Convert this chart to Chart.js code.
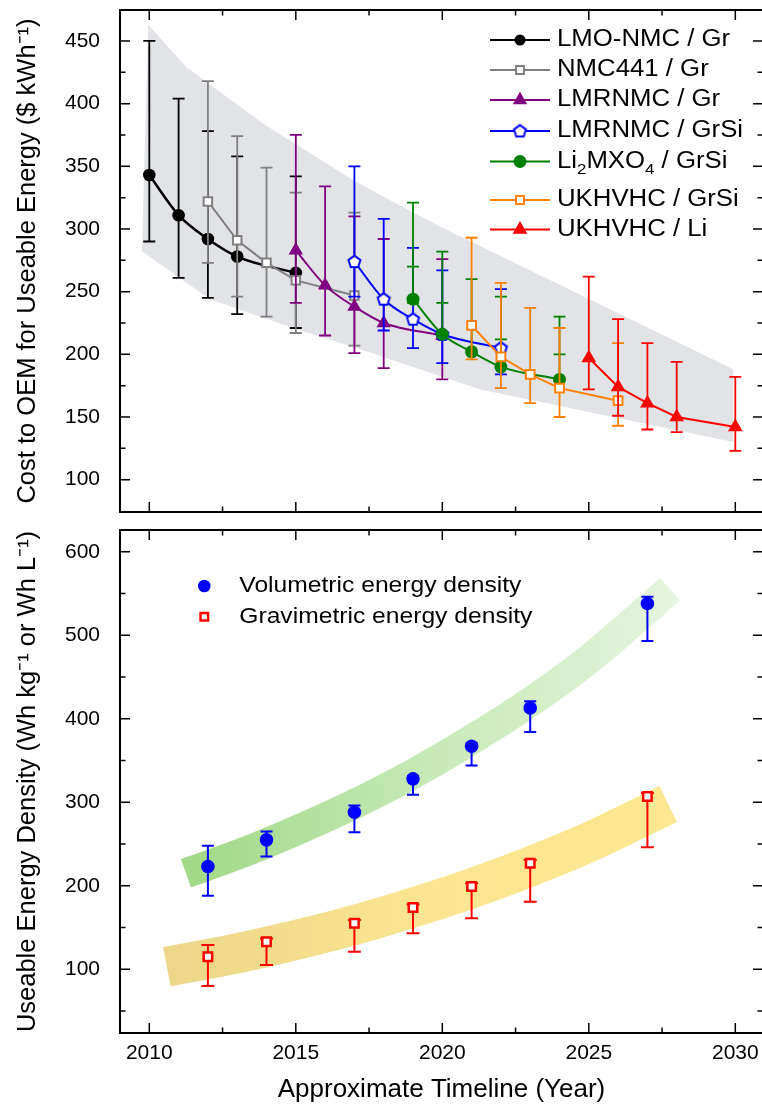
<!DOCTYPE html>
<html>
<head>
<meta charset="utf-8">
<title>Battery cost and energy density timeline</title>
<script src="https://cdn.jsdelivr.net/npm/chart.js@4.4.1/dist/chart.umd.min.js"></script>
<style>
  html, body { margin:0; padding:0; background:#ffffff; overflow:hidden; }
  #page { position:relative; width:762px; height:1107px; overflow:hidden; background:#fff; }
  #costChart { position:absolute; left:0; top:0; }
  #densityChart { position:absolute; left:0; top:522px; }
</style>
</head>
<body>
<div id="page">
  <canvas id="costChart" width="766" height="522"></canvas>
  <canvas id="densityChart" width="766" height="585"></canvas>
</div>
<script>
// ---------------- tick labels ----------------
const YEAR_TICKS = [2010, 2015, 2020, 2025, 2030];
const YEAR_MINOR_TICKS = [2012.5, 2017.5, 2022.5, 2027.5];
const COST_TICKS = [100, 150, 200, 250, 300, 350, 400, 450];
const COST_MINOR_TICKS = [125, 175, 225, 275, 325, 375, 425];
const DENSITY_TICKS = [100, 200, 300, 400, 500, 600];
const DENSITY_MINOR_TICKS = [50, 150, 250, 350, 450, 550];

// ---------------- top panel: cost ($/kWh) ----------------
const LMO_NMC_GR_YEAR = [2010, 2011, 2012, 2013, 2015];
const LMO_NMC_GR_COST = [343, 311, 292, 278, 265];
const LMO_NMC_GR_LOW  = [290, 261, 245, 232, 221];
const LMO_NMC_GR_HIGH = [450, 404, 378, 358, 342];

const NMC441_GR_YEAR = [2012, 2013, 2014, 2015, 2017];
const NMC441_GR_COST = [322, 291, 273, 259, 247];
const NMC441_GR_LOW  = [273, 246, 230, 217, 207];
const NMC441_GR_HIGH = [418, 374, 349, 329, 313];

const LMRNMC_GR_YEAR = [2015, 2016, 2017, 2018, 2020];
const LMRNMC_GR_COST = [283, 255, 238, 225, 215];
const LMRNMC_GR_LOW  = [241, 215, 201, 189, 180];
const LMRNMC_GR_HIGH = [375, 334, 310, 292, 276];

const LMRNMC_GRSI_YEAR = [2017, 2018, 2019, 2020, 2022];
const LMRNMC_GRSI_COST = [274, 244, 228, 216, 205];
const LMRNMC_GRSI_LOW  = [246, 219, 205, 193, 184];
const LMRNMC_GRSI_HIGH = [350, 308, 285, 267, 252];

const LI2MXO4_GRSI_YEAR = [2019, 2020, 2021, 2022, 2024];
const LI2MXO4_GRSI_COST = [244, 216, 202, 190, 180];
const LI2MXO4_GRSI_LOW  = [241, 241, 260, 212, 200];
const LI2MXO4_GRSI_HIGH = [321, 282, 260, 246, 230];
const LI2MXO4_GRSI_MID  = [270, null, null, null, null];

const UKHVHC_GRSI_YEAR = [2021, 2022, 2023, 2024, 2026];
const UKHVHC_GRSI_COST = [223, 198, 184, 173, 163];
const UKHVHC_GRSI_LOW  = [196, 173, 161, 150, 143];
const UKHVHC_GRSI_HIGH = [293, 257, 237, 221, 209];

const UKHVHC_LI_YEAR = [2025, 2026, 2027, 2028, 2030];
const UKHVHC_LI_COST = [197, 174, 161, 150, 142];
const UKHVHC_LI_LOW  = [172, 151, 140, 138, 123];
const UKHVHC_LI_HIGH = [262, 228, 209, 194, 182];

// grey range band (outline: upper edge left->right, lower edge right->left)
const COST_BAND_YEAR = [2009.96, 2011.27, 2013.89, 2016.95, 2017.9, 2019.92, 2029.93, 2029.93, 2021.3, 2017.07, 2015.03, 2012.07, 2009.75];
const COST_BAND_COST = [463, 429, 384, 339, 327, 302, 188, 130, 172, 205, 220, 244, 282];

// ---------------- bottom panel: energy density ----------------
const DENSITY_YEAR = [2012, 2014, 2017, 2019, 2021, 2023, 2027];
const VOLUMETRIC      = [223, 255, 288, 328, 367, 413, 538];
const VOLUMETRIC_LOW  = [188, 235, 264, 309, 344, 384, 493];
const VOLUMETRIC_HIGH = [248, 265, 296, 331, 371, 421, 546];
const GRAVIMETRIC      = [115, 133, 155, 174, 199, 227, 307];
const GRAVIMETRIC_LOW  = [80, 105, 121, 143, 161, 181, 246];
const GRAVIMETRIC_HIGH = [129, 137, 159, 178, 203, 231, 311];

// trend bands (centre lines)
const VOLUMETRIC_BAND_YEAR = [2011.25, 2013, 2015, 2017, 2019, 2021, 2023, 2025, 2027.77];
const VOLUMETRIC_BAND      = [215, 237, 266, 298, 334, 375, 420, 471, 555];
const GRAVIMETRIC_BAND_YEAR = [2010.6, 2013, 2015, 2017, 2019, 2021, 2023, 2025, 2027.71];
const GRAVIMETRIC_BAND      = [103, 119, 135, 153, 174, 197, 223, 252, 298];

// ---------------- setup ----------------
const FONT = "'Liberation Sans', Arial, Helvetica, sans-serif";
Chart.defaults.font.family = FONT;
Chart.defaults.color = '#000';

const X_MIN = 2009.0, X_MAX = 2030.945;

function pentagonImage(r, lw, stroke, fill) {
  const s = Math.ceil(2 * r + lw + 2);
  const c = document.createElement('canvas');
  c.width = s; c.height = s;
  const g = c.getContext('2d');
  g.translate(s / 2, s / 2 + 0.4);
  g.beginPath();
  for (let k = 0; k < 5; k++) {
    const a = -Math.PI / 2 + k * 2 * Math.PI / 5;
    const px = r * Math.cos(a), py = r * Math.sin(a);
    if (k) g.lineTo(px, py); else g.moveTo(px, py);
  }
  g.closePath();
  g.fillStyle = fill; g.fill();
  g.lineWidth = lw; g.strokeStyle = stroke; g.stroke();
  return c;
}
const PENTAGON = pentagonImage(6.3, 2, '#0000ff', '#ffffff');

const COST_SERIES = [
  {label:'LMO-NMC / Gr', year:LMO_NMC_GR_YEAR, cost:LMO_NMC_GR_COST, low:LMO_NMC_GR_LOW, high:LMO_NMC_GR_HIGH,
   color:'#000000', point:'circle', radius:6.3, legendRadius:5.5, fill:'#000000', pbw:0, smooth:true, lw:2.5},
  {label:'NMC441 / Gr', year:NMC441_GR_YEAR, cost:NMC441_GR_COST, low:NMC441_GR_LOW, high:NMC441_GR_HIGH,
   color:'#808080', point:'rect', radius:6, legendRadius:5.5, fill:'#ffffff', pbw:2, smooth:false, lw:2},
  {label:'LMRNMC / Gr', year:LMRNMC_GR_YEAR, cost:LMRNMC_GR_COST, low:LMRNMC_GR_LOW, high:LMRNMC_GR_HIGH,
   color:'#800080', point:'triangle', radius:8.3, fill:'#800080', pbw:0, smooth:true, lw:2},
  {label:'LMRNMC / GrSi', year:LMRNMC_GRSI_YEAR, cost:LMRNMC_GRSI_COST, low:LMRNMC_GRSI_LOW, high:LMRNMC_GRSI_HIGH,
   color:'#0000ff', point:PENTAGON, radius:7, fill:'#ffffff', pbw:2, smooth:true, lw:2},
  {label:'Li2MXO4 / GrSi', parts:[['Li',0],['2',1],['MXO',0],['4',1],[' / GrSi',0]],
   year:LI2MXO4_GRSI_YEAR, cost:LI2MXO4_GRSI_COST, low:LI2MXO4_GRSI_LOW, high:LI2MXO4_GRSI_HIGH, mid:LI2MXO4_GRSI_MID,
   color:'#008000', point:'circle', radius:6.5, fill:'#008000', pbw:0, smooth:true, lw:2},
  {label:'UKHVHC / GrSi', year:UKHVHC_GRSI_YEAR, cost:UKHVHC_GRSI_COST, low:UKHVHC_GRSI_LOW, high:UKHVHC_GRSI_HIGH,
   color:'#ff8000', point:'rect', radius:6.2, legendRadius:5.5, fill:'#ffffff', pbw:2, smooth:false, lw:2},
  {label:'UKHVHC / Li', year:UKHVHC_LI_YEAR, cost:UKHVHC_LI_COST, low:UKHVHC_LI_LOW, high:UKHVHC_LI_HIGH,
   color:'#ff0000', point:'triangle', radius:8.5, fill:'#ff0000', pbw:0, smooth:false, lw:2}
];

function seriesDataset(s, order) {
  return {
    type:'line', label:s.label,
    data: s.year.map((x, i) => ({x, y: s.cost[i]})),
    errLow: s.low, errHigh: s.high, errMid: s.mid || null,
    errColor: s.color, errWidth: 1.8, errCap: 12,
    borderColor: s.color, borderWidth: s.lw,
    pointStyle: s.point, pointRadius: s.radius, pointHoverRadius: s.radius,
    pointBackgroundColor: s.fill, pointBorderColor: s.color, pointBorderWidth: s.pbw,
    tension: s.smooth ? 0.4 : 0,
    cubicInterpolationMode: s.smooth ? 'monotone' : 'default',
    fill: false, order
  };
}

function bandGradient(colors, x0, x1) {
  return (c) => {
    const chart = c.chart;
    const xs = chart.scales && chart.scales.x;
    if (!chart.chartArea || !xs) return colors[0];
    const g = chart.ctx.createLinearGradient(xs.getPixelForValue(x0), 0, xs.getPixelForValue(x1), 0);
    colors.forEach((col, i) => g.addColorStop(i / (colors.length - 1), col));
    return g;
  };
}

function drawMarker(ctx, style, r, x, y, fill, stroke, bw) {
  ctx.save();
  if (typeof style === 'object') {
    ctx.drawImage(style, x - style.width / 2, y - style.height / 2);
    ctx.restore();
    return;
  }
  ctx.beginPath();
  if (style === 'circle') {
    ctx.arc(x, y, r, 0, 2 * Math.PI);
  } else if (style === 'rect') {
    const h = r * Math.SQRT1_2;
    ctx.rect(x - h, y - h, 2 * h, 2 * h);
  } else if (style === 'triangle') {
    for (let k = 0; k < 3; k++) {
      const a = -Math.PI / 2 + k * 2 * Math.PI / 3;
      const px = x + r * Math.cos(a), py = y + r * Math.sin(a);
      if (k) ctx.lineTo(px, py); else ctx.moveTo(px, py);
    }
    ctx.closePath();
  }
  ctx.fillStyle = fill; ctx.fill();
  if (bw > 0) { ctx.lineWidth = bw; ctx.strokeStyle = stroke; ctx.stroke(); }
  ctx.restore();
}

function lockBox(size) {
  return (s) => {
    if (s.isHorizontal()) s.height = size; else s.width = size;
    s.paddingTop = 0; s.paddingBottom = 0; s.paddingLeft = 0; s.paddingRight = 0;
  };
}

// ---------------- plugins ----------------
const errorBars = {
  id: 'errorBars',
  beforeDatasetDraw(chart, args) {
    const ds = chart.data.datasets[args.index];
    if (!ds.errLow) return;
    const ys = chart.scales.y, ctx = chart.ctx;
    const half = ds.errCap / 2;
    ctx.save();
    ctx.strokeStyle = ds.errColor; ctx.lineWidth = ds.errWidth; ctx.lineCap = 'butt';
    args.meta.data.forEach((pt, i) => {
      const v = ds.data[i].y, lo = ds.errLow[i], hi = ds.errHigh[i];
      if (lo == null || hi == null) return;
      const x = pt.x;
      const yA = ys.getPixelForValue(Math.min(lo, v)), yB = ys.getPixelForValue(Math.max(hi, v));
      ctx.beginPath();
      ctx.moveTo(x, yA); ctx.lineTo(x, yB);
      const caps = [lo, hi];
      if (ds.errMid && ds.errMid[i] != null) caps.push(ds.errMid[i]);
      caps.forEach(c => {
        const yc = ys.getPixelForValue(c);
        ctx.moveTo(x - half, yc); ctx.lineTo(x + half, yc);
      });
      ctx.stroke();
    });
    ctx.restore();
  }
};

const frame = {
  id: 'frame',
  afterDraw(chart, args, o) {
    const {ctx, chartArea: a, scales: {x, y}} = chart;
    ctx.save();
    ctx.strokeStyle = '#000'; ctx.lineWidth = 1.5;
    ctx.beginPath();
    const vt = (v, len) => {
      const px = x.getPixelForValue(v);
      ctx.moveTo(px, a.bottom); ctx.lineTo(px, a.bottom - len);
      ctx.moveTo(px, a.top); ctx.lineTo(px, a.top + len);
    };
    const ht = (v, len) => {
      const py = y.getPixelForValue(v);
      ctx.moveTo(a.left, py); ctx.lineTo(a.left + len, py);
      ctx.moveTo(a.right, py); ctx.lineTo(a.right - len, py);
    };
    o.xMajor.forEach(v => vt(v, 10));
    o.xMinor.forEach(v => vt(v, 5.5));
    o.yMajor.forEach(v => ht(v, 10));
    o.yMinor.forEach(v => ht(v, 5.5));
    ctx.stroke();
    ctx.lineWidth = 2;
    ctx.strokeRect(a.left, a.top, a.right - a.left, a.bottom - a.top);
    ctx.restore();
  }
};

const seriesKey = {
  id: 'seriesKey',
  afterDraw(chart, args, o) {
    const ctx = chart.ctx;
    o.rows.forEach(row => {
      const s = row.series;
      if (o.lineX0 != null) {
        ctx.save();
        ctx.strokeStyle = s.color; ctx.lineWidth = 2;
        ctx.beginPath(); ctx.moveTo(o.lineX0, row.y); ctx.lineTo(o.lineX1, row.y); ctx.stroke();
        ctx.restore();
      }
      drawMarker(ctx, s.point, s.legendRadius || s.radius, o.markerX, row.y, s.fill, s.color, s.pbw);
      ctx.save();
      ctx.translate(o.textX, row.y);
      ctx.scale(o.stretch, 1);
      ctx.fillStyle = '#000';
      ctx.textBaseline = 'middle';
      ctx.textAlign = 'left';
      let cx = 0;
      const parts = s.parts || [[s.label, 0]];
      parts.forEach(([t, sub]) => {
        ctx.font = (sub ? o.subSize : o.size) + 'px ' + FONT;
        ctx.fillText(t, cx, sub ? o.subDy : 0);
        cx += ctx.measureText(t).width;
      });
      ctx.restore();
    });
  }
};

// ---------------- top chart ----------------
const costBand = {
  type:'line', label:'range',
  data: COST_BAND_YEAR.map((x, i) => ({x, y: COST_BAND_COST[i]})),
  fill:'shape', backgroundColor:'#e1e3e7',
  borderColor:'rgba(0,0,0,0)', borderWidth:0, pointRadius:0, pointHoverRadius:0, tension:0, order:100
};

new Chart(document.getElementById('costChart'), {
  type:'line',
  data: { datasets: [costBand, ...COST_SERIES.map((s, i) => seriesDataset(s, 10 - i))] },
  options: {
    responsive:false, animation:false, devicePixelRatio:1, events:[],
    layout: { autoPadding:false, padding: { left:0, right:3, top:10, bottom:0 } },
    plugins: {
      legend:{display:false}, tooltip:{enabled:false},
      frame: { xMajor:YEAR_TICKS, xMinor:YEAR_MINOR_TICKS, yMajor:COST_TICKS, yMinor:COST_MINOR_TICKS },
      seriesKey: {
        lineX0:490, lineX1:550, markerX:520, textX:557, size:23, subSize:15, subDy:8, stretch:1.12,
        rows: COST_SERIES.map((s, i) => ({ series:s, y:[40, 70, 100, 131, 161.5, 200, 229.5][i] }))
      }
    },
    scales: {
      x: {
        type:'linear', min:X_MIN, max:X_MAX,
        grid:{display:false, drawTicks:false}, border:{display:false},
        ticks:{display:false},
        afterBuildTicks: s => { s.ticks = YEAR_TICKS.map(v => ({value:v})); },
        afterFit: lockBox(10)
      },
      y: {
        type:'linear', min:74.2, max:474.7,
        grid:{display:false, drawTicks:false}, border:{display:false},
        ticks:{ padding:20, font:{size:21}, color:'#000', callback: v => String(v) },
        afterBuildTicks: s => { s.ticks = COST_TICKS.map(v => ({value:v})); },
        afterFit: lockBox(120),
        title:{ display:true, text:'Cost to OEM for Useable Energy ($ kWh\u207B\u00B9)', font:{size:25.5}, color:'#000', padding:{top:13, bottom:0} }
      }
    }
  },
  plugins:[errorBars, frame, seriesKey]
});

// ---------------- bottom chart ----------------
const DENSITY_SERIES = [
  {label:'Volumetric energy density', color:'#0000ff', point:'circle', radius:6.8, legendRadius:6.3, fill:'#0000ff', pbw:0},
  {label:'Gravimetric energy density', color:'#ff0000', point:'rect', radius:6, legendRadius:5.3, fill:'#ffffff', pbw:2.5}
];

new Chart(document.getElementById('densityChart'), {
  type:'line',
  data: { datasets: [
    { type:'line', label:'volumetric trend',
      data: VOLUMETRIC_BAND_YEAR.map((x, i) => ({x, y: VOLUMETRIC_BAND[i]})),
      borderColor: bandGradient(['#a0d987', '#c6e9b6', '#e5f4de'], 2011.25, 2027.77),
      borderWidth:30, borderCapStyle:'butt', pointRadius:0, pointHoverRadius:0,
      tension:0.4, cubicInterpolationMode:'monotone', fill:false, order:100 },
    { type:'line', label:'gravimetric trend',
      data: GRAVIMETRIC_BAND_YEAR.map((x, i) => ({x, y: GRAVIMETRIC_BAND[i]})),
      borderColor: bandGradient(['#ecd689', '#fbe590', '#fde791'], 2010.6, 2027.71),
      borderWidth:40, borderCapStyle:'butt', pointRadius:0, pointHoverRadius:0,
      tension:0.4, cubicInterpolationMode:'monotone', fill:false, order:99 },
    { type:'line', label:'Gravimetric energy density', showLine:false,
      data: DENSITY_YEAR.map((x, i) => ({x, y: GRAVIMETRIC[i]})),
      errLow:GRAVIMETRIC_LOW, errHigh:GRAVIMETRIC_HIGH, errColor:'#ff0000', errWidth:2, errCap:13,
      borderColor:'#ff0000', pointStyle:'rect', pointRadius:6, pointHoverRadius:6,
      pointBackgroundColor:'#ffffff', pointBorderColor:'#ff0000', pointBorderWidth:2.5, order:2 },
    { type:'line', label:'Volumetric energy density', showLine:false,
      data: DENSITY_YEAR.map((x, i) => ({x, y: VOLUMETRIC[i]})),
      errLow:VOLUMETRIC_LOW, errHigh:VOLUMETRIC_HIGH, errColor:'#0000ff', errWidth:2, errCap:12,
      borderColor:'#0000ff', pointStyle:'circle', pointRadius:6.8, pointHoverRadius:6.8,
      pointBackgroundColor:'#0000ff', pointBorderWidth:0, order:1 }
  ] },
  options: {
    responsive:false, animation:false, devicePixelRatio:1, events:[],
    layout: { autoPadding:false, padding: { left:0, right:3, top:8, bottom:0 } },
    plugins: {
      legend:{display:false}, tooltip:{enabled:false},
      frame: { xMajor:YEAR_TICKS, xMinor:YEAR_MINOR_TICKS, yMajor:DENSITY_TICKS, yMinor:DENSITY_MINOR_TICKS },
      seriesKey: {
        lineX0:null, markerX:204.3, textX:239.3, size:22, subSize:15, subDy:8, stretch:1.12,
        rows: DENSITY_SERIES.map((s, i) => ({ series:s, y:[64, 94.7][i] }))
      }
    },
    scales: {
      x: {
        type:'linear', min:X_MIN, max:X_MAX,
        grid:{display:false, drawTicks:false}, border:{display:false},
        ticks:{ padding:8, font:{size:21}, color:'#000', maxRotation:0, callback: v => String(v) },
        afterBuildTicks: s => { s.ticks = YEAR_TICKS.map(v => ({value:v})); },
        afterFit: lockBox(74),
        title:{ display:true, text:'Approximate Timeline (Year)', font:{size:26}, color:'#000', padding:{top:0, bottom:2} }
      },
      y: {
        type:'linear', min:23.7, max:626,
        grid:{display:false, drawTicks:false}, border:{display:false},
        ticks:{ padding:20, font:{size:21}, color:'#000', callback: v => String(v) },
        afterBuildTicks: s => { s.ticks = DENSITY_TICKS.map(v => ({value:v})); },
        afterFit: lockBox(120),
        title:{ display:true, text:'Useable Energy Density (Wh kg\u207B\u00B9 or Wh L\u207B\u00B9)', font:{size:25.5}, color:'#000', padding:{top:13, bottom:0} }
      }
    }
  },
  plugins:[errorBars, frame, seriesKey]
});
</script>
</body>
</html>
